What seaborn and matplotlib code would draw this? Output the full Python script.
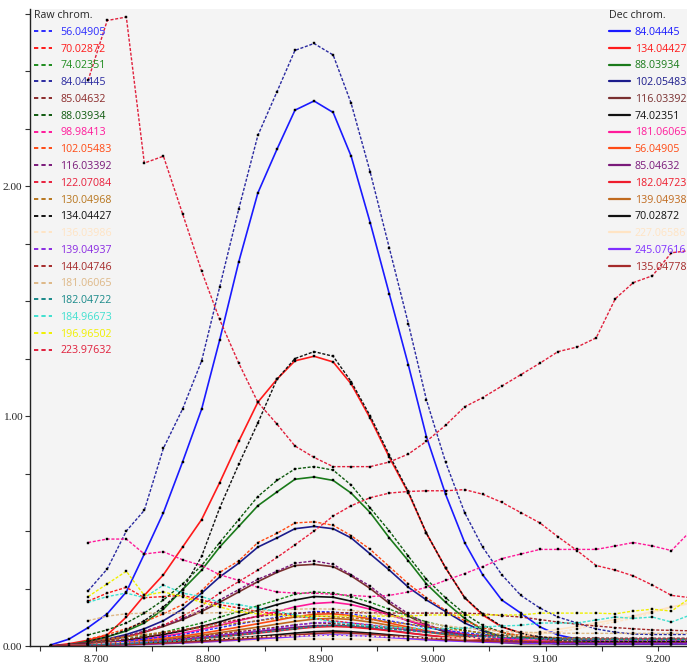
import matplotlib
matplotlib.use("Agg")
import matplotlib.pyplot as plt
from matplotlib.lines import Line2D
from matplotlib.ticker import MultipleLocator, FormatStrFormatter
import pandas as pd
import seaborn as sns

# Retention time of every scan (min)
rt = [8.660, 8.676, 8.693, 8.710, 8.727, 8.743, 8.760, 8.777, 8.794, 8.810,
      8.827, 8.844, 8.861, 8.877, 8.894, 8.911, 8.927, 8.944, 8.961, 8.978,
      8.994, 9.011, 9.028, 9.044, 9.061, 9.078, 9.095, 9.111, 9.128, 9.145,
      9.162, 9.178, 9.195, 9.212, 9.229]

# ---- raw chromatograms (first value = scan 2) ----
raw_labels = ["56.04905", "70.02872", "74.02351", "84.04445", "85.04632",
              "88.03934", "98.98413", "102.05483", "116.03392", "122.07084",
              "130.04968", "134.04427", "136.03986", "139.04937", "144.04746",
              "181.06065", "182.04722", "184.96673", "196.96502", "223.97632"]
raw_colors = ["#2a2aff", "#ff1a1a", "#1e8c1e", "#2a2aa0", "#8b2a2a",
              "#0f5a0f", "#ff1a9a", "#ff4a14", "#7a1a7a", "#e8203c",
              "#b8761e", "#111111", "#ffe4c4", "#8a2be2", "#a52a2a",
              "#deb887", "#1a8a8a", "#40e0d0", "#f0f000", "#e0203c"]

raw_56 = [0.01, 0.015, 0.02, 0.03, 0.04, 0.05, 0.065, 0.08, 0.095, 0.11, 0.125, 0.14, 0.15, 0.148, 0.14, 0.125, 0.11,
          0.095, 0.08, 0.068, 0.058, 0.05, 0.044, 0.04, 0.036, 0.033, 0.031, 0.03, 0.03, 0.03, 0.03, 0.03, 0.03]
raw_70 = [0.195, 0.23, 0.255, 0.21, 0.215, 0.22, 0.20, 0.18, 0.165, 0.15, 0.14, 0.13, 0.12, 0.11, 0.10, 0.09, 0.08,
          0.07, 0.06, 0.055, 0.05, 0.045, 0.04, 0.035, 0.03, 0.03, 0.03, 0.03, 0.03, 0.03, 0.03, 0.03, 0.03]
raw_74 = [0.01, 0.02, 0.03, 0.045, 0.06, 0.08, 0.10, 0.125, 0.15, 0.175, 0.20, 0.225, 0.235, 0.23, 0.215, 0.19, 0.16,
          0.13, 0.105, 0.085, 0.068, 0.055, 0.045, 0.038, 0.033, 0.03, 0.028, 0.026, 0.025, 0.025, 0.025, 0.025, 0.025]
raw_84 = [0.24, 0.335, 0.50, 0.59, 0.86, 1.03, 1.24, 1.56, 1.90, 2.22, 2.41, 2.59, 2.62, 2.57, 2.36, 2.06, 1.73,
          1.40, 1.07, 0.80, 0.58, 0.43, 0.31, 0.22, 0.165, 0.126, 0.10, 0.074, 0.06, 0.052, 0.05, 0.05, 0.05]
raw_85 = [0.01, 0.012, 0.015, 0.02, 0.026, 0.033, 0.042, 0.052, 0.062, 0.072, 0.082, 0.092, 0.10, 0.098, 0.092, 0.085,
          0.078, 0.07, 0.062, 0.055, 0.05, 0.045, 0.042, 0.04, 0.038, 0.036, 0.035, 0.035, 0.034, 0.034, 0.034, 0.034, 0.034]
raw_88 = [0.048, 0.07, 0.10, 0.143, 0.20, 0.27, 0.35, 0.45, 0.55, 0.65, 0.72, 0.77, 0.78, 0.765, 0.70, 0.60, 0.50,
          0.39, 0.29, 0.21, 0.14, 0.09, 0.06, 0.04, 0.03, 0.025, 0.02, 0.02, 0.02, 0.02, 0.02, 0.02, 0.02]
raw_98 = [0.45, 0.465, 0.465, 0.40, 0.41, 0.375, 0.35, 0.31, 0.285, 0.255, 0.235, 0.23, 0.23, 0.225, 0.22, 0.215, 0.22,
          0.235, 0.255, 0.285, 0.315, 0.345, 0.38, 0.40, 0.42, 0.42, 0.42, 0.42, 0.435, 0.45, 0.435, 0.415, 0.50]
raw_102 = [0.03, 0.05, 0.075, 0.105, 0.14, 0.18, 0.24, 0.32, 0.37, 0.45, 0.49, 0.535, 0.54, 0.525, 0.48, 0.42, 0.345,
           0.27, 0.21, 0.155, 0.11, 0.08, 0.06, 0.045, 0.035, 0.03, 0.03, 0.025, 0.025, 0.025, 0.025, 0.025, 0.025]
raw_116 = [0.02, 0.03, 0.045, 0.065, 0.09, 0.12, 0.157, 0.20, 0.245, 0.29, 0.325, 0.36, 0.37, 0.355, 0.31, 0.26, 0.195,
           0.14, 0.095, 0.065, 0.045, 0.03, 0.025, 0.02, 0.015, 0.015, 0.015, 0.015, 0.015, 0.015, 0.015, 0.015, 0.015]
raw_122 = [0.02, 0.03, 0.04, 0.06, 0.09, 0.13, 0.175, 0.23, 0.28, 0.33, 0.385, 0.44, 0.50, 0.565, 0.61, 0.645, 0.665,
           0.672, 0.675, 0.675, 0.68, 0.66, 0.625, 0.58, 0.535, 0.475, 0.415, 0.35, 0.33, 0.305, 0.265, 0.22, 0.21]
raw_130 = [0.02, 0.03, 0.04, 0.05, 0.06, 0.07, 0.08, 0.09, 0.10, 0.11, 0.12, 0.125, 0.13, 0.128, 0.122, 0.115, 0.105,
           0.095, 0.085, 0.075, 0.066, 0.058, 0.05, 0.045, 0.04, 0.036, 0.033, 0.03, 0.03, 0.028, 0.028, 0.028, 0.028]
raw_134 = [0.02, 0.04, 0.07, 0.11, 0.17, 0.245, 0.39, 0.60, 0.79, 0.97, 1.16, 1.25, 1.28, 1.26, 1.15, 1.00, 0.83,
           0.67, 0.49, 0.34, 0.21, 0.14, 0.085, 0.055, 0.04, 0.03, 0.025, 0.02, 0.02, 0.02, 0.02, 0.02, 0.02]
raw_136 = [0.01, 0.012, 0.015, 0.018, 0.02, 0.024, 0.028, 0.032, 0.036, 0.04, 0.042, 0.044, 0.045, 0.045, 0.044, 0.042,
           0.04, 0.038, 0.036, 0.035, 0.035, 0.036, 0.04, 0.045, 0.052, 0.06, 0.075, 0.09, 0.105, 0.12, 0.145, 0.17, 0.19]
raw_139 = [0.005, 0.008, 0.012, 0.017, 0.023, 0.03, 0.038, 0.047, 0.057, 0.067, 0.078, 0.09, 0.1, 0.105, 0.1, 0.092,
           0.082, 0.072, 0.062, 0.053, 0.046, 0.04, 0.035, 0.032, 0.03, 0.028, 0.027, 0.026, 0.026, 0.025, 0.025, 0.025, 0.025]
raw_144 = [0.01, 0.02, 0.03, 0.04, 0.055, 0.07, 0.085, 0.10, 0.115, 0.128, 0.138, 0.143, 0.145, 0.145, 0.145, 0.144,
           0.143, 0.143, 0.143, 0.143, 0.143, 0.14, 0.132, 0.126, 0.115, 0.104, 0.095, 0.087, 0.08, 0.075, 0.07, 0.068, 0.066]
raw_181 = [0.11, 0.13, 0.14, 0.143, 0.143, 0.143, 0.143, 0.145, 0.148, 0.152, 0.156, 0.16, 0.162, 0.16, 0.155, 0.145,
           0.13, 0.115, 0.10, 0.088, 0.078, 0.07, 0.064, 0.06, 0.058, 0.056, 0.055, 0.055, 0.055, 0.055, 0.055, 0.055, 0.055]
raw_182 = [0.005, 0.007, 0.01, 0.014, 0.019, 0.025, 0.032, 0.04, 0.048, 0.057, 0.066, 0.075, 0.085, 0.09, 0.088, 0.082,
           0.075, 0.067, 0.06, 0.053, 0.047, 0.042, 0.038, 0.035, 0.033, 0.031, 0.03, 0.03, 0.029, 0.029, 0.029, 0.029, 0.029]
raw_184 = [0.19, 0.215, 0.23, 0.21, 0.265, 0.23, 0.215, 0.19, 0.18, 0.165, 0.15, 0.135, 0.12, 0.105, 0.095, 0.088,
           0.082, 0.078, 0.075, 0.075, 0.078, 0.083, 0.087, 0.09, 0.1, 0.1, 0.1, 0.113, 0.126, 0.12, 0.126, 0.104, 0.135]
raw_196 = [0.215, 0.27, 0.325, 0.22, 0.235, 0.215, 0.19, 0.17, 0.148, 0.14, 0.135, 0.13, 0.13, 0.13, 0.13, 0.13,
           0.13, 0.13, 0.135, 0.135, 0.135, 0.135, 0.135, 0.135, 0.143, 0.143, 0.143, 0.143, 0.14, 0.152, 0.16, 0.152, 0.21]
raw_223 = [2.46, 2.72, 2.735, 2.10, 2.13, 1.88, 1.63, 1.42, 1.23, 1.06, 0.965, 0.87, 0.82, 0.78, 0.78, 0.78, 0.80,
           0.835, 0.89, 0.96, 1.04, 1.08, 1.13, 1.18, 1.23, 1.28, 1.30, 1.34, 1.51, 1.58, 1.61, 1.71, 1.72]
raw_values = [raw_56, raw_70, raw_74, raw_84, raw_85, raw_88, raw_98, raw_102, raw_116, raw_122,
              raw_130, raw_134, raw_136, raw_139, raw_144, raw_181, raw_182, raw_184, raw_196, raw_223]

# ---- deconvoluted chromatograms (first value = scan 0) ----
dec_labels = ["84.04445", "134.04427", "88.03934", "102.05483", "116.03392",
              "74.02351", "181.06065", "56.04905", "85.04632", "182.04723",
              "139.04938", "70.02872", "227.06586", "245.07616", "135.04778"]
dec_colors = ["#1a1aff", "#ff1a1a", "#1a7a1a", "#1c1c8c", "#7a3030",
              "#111111", "#ff1a9a", "#ff4a14", "#7a1a7a", "#ee1c2c",
              "#c06a1e", "#111111", "#ffe4c4", "#7f2fff", "#a52a2a"]

dec_84 = [0.005, 0.03, 0.08, 0.14, 0.235, 0.40, 0.58, 0.80, 1.03, 1.33, 1.67, 1.97, 2.16, 2.33, 2.37, 2.32, 2.13, 1.84,
          1.53, 1.22, 0.91, 0.66, 0.45, 0.31, 0.20, 0.143, 0.083, 0.048, 0.03, 0.02, 0.015, 0.01, 0.01, 0.01, 0.01]
dec_134 = [0.0, 0.01, 0.025, 0.048, 0.126, 0.22, 0.31, 0.43, 0.55, 0.71, 0.89, 1.06, 1.16, 1.24, 1.26, 1.235, 1.14, 0.99,
           0.82, 0.665, 0.49, 0.34, 0.21, 0.135, 0.083, 0.057, 0.035, 0.02, 0.015, 0.01, 0.01, 0.01, 0.01, 0.01, 0.01]
dec_88 = [0.0, 0.005, 0.02, 0.04, 0.065, 0.10, 0.16, 0.245, 0.33, 0.43, 0.52, 0.61, 0.67, 0.725, 0.735, 0.72, 0.665, 0.58,
          0.47, 0.37, 0.27, 0.19, 0.12, 0.07, 0.04, 0.025, 0.015, 0.01, 0.01, 0.01, 0.01, 0.01, 0.01, 0.01, 0.01]
dec_102 = [0.0, 0.005, 0.015, 0.03, 0.05, 0.075, 0.11, 0.16, 0.23, 0.30, 0.36, 0.43, 0.47, 0.51, 0.52, 0.51, 0.47, 0.40,
           0.33, 0.255, 0.20, 0.15, 0.10, 0.065, 0.04, 0.025, 0.015, 0.01, 0.01, 0.01, 0.01, 0.01, 0.01, 0.01, 0.01]
dec_116 = [0.0, 0.005, 0.015, 0.025, 0.04, 0.06, 0.085, 0.115, 0.15, 0.19, 0.235, 0.28, 0.32, 0.35, 0.355, 0.345, 0.305,
           0.25, 0.185, 0.13, 0.09, 0.06, 0.04, 0.025, 0.015, 0.01, 0.01, 0.01, 0.01, 0.01, 0.01, 0.01, 0.01, 0.01, 0.01]
dec_74 = [0.0, 0.003, 0.008, 0.015, 0.025, 0.037, 0.05, 0.066, 0.085, 0.105, 0.13, 0.155, 0.18, 0.2, 0.215, 0.212, 0.195,
          0.17, 0.14, 0.11, 0.085, 0.065, 0.05, 0.038, 0.03, 0.024, 0.02, 0.018, 0.016, 0.015, 0.015, 0.015, 0.015, 0.015, 0.015]
dec_181 = [0.0, 0.003, 0.007, 0.013, 0.02, 0.03, 0.042, 0.056, 0.072, 0.09, 0.11, 0.13, 0.15, 0.17, 0.185, 0.19, 0.18,
           0.16, 0.135, 0.11, 0.088, 0.068, 0.052, 0.04, 0.032, 0.026, 0.022, 0.02, 0.018, 0.017, 0.016, 0.016, 0.016, 0.016, 0.016]
dec_56 = [0.0, 0.002, 0.005, 0.01, 0.016, 0.024, 0.033, 0.043, 0.055, 0.068, 0.082, 0.097, 0.112, 0.127, 0.138, 0.14, 0.132,
          0.118, 0.1, 0.082, 0.066, 0.052, 0.041, 0.032, 0.026, 0.021, 0.018, 0.016, 0.015, 0.014, 0.014, 0.014, 0.014, 0.014, 0.014]
dec_85 = [0.0, 0.002, 0.004, 0.007, 0.011, 0.016, 0.022, 0.029, 0.037, 0.045, 0.054, 0.063, 0.072, 0.081, 0.088, 0.09, 0.086,
          0.078, 0.068, 0.057, 0.047, 0.038, 0.031, 0.025, 0.021, 0.018, 0.016, 0.015, 0.014, 0.013, 0.013, 0.013, 0.013, 0.013, 0.013]
dec_182 = [0.0, 0.002, 0.004, 0.006, 0.01, 0.014, 0.019, 0.025, 0.032, 0.04, 0.048, 0.056, 0.065, 0.074, 0.082, 0.085, 0.082,
           0.075, 0.066, 0.056, 0.047, 0.039, 0.032, 0.026, 0.022, 0.019, 0.017, 0.016, 0.015, 0.015, 0.015, 0.015, 0.015, 0.015, 0.015]
dec_139 = [0.0, 0.002, 0.005, 0.009, 0.014, 0.02, 0.028, 0.037, 0.047, 0.058, 0.07, 0.082, 0.095, 0.107, 0.117, 0.12, 0.115,
           0.104, 0.09, 0.075, 0.061, 0.049, 0.039, 0.031, 0.025, 0.021, 0.018, 0.016, 0.015, 0.014, 0.014, 0.014, 0.014, 0.014, 0.014]
dec_70 = [0.0, 0.001, 0.003, 0.005, 0.008, 0.011, 0.015, 0.019, 0.024, 0.03, 0.036, 0.042, 0.049, 0.056, 0.062, 0.065, 0.062,
          0.056, 0.049, 0.042, 0.035, 0.029, 0.024, 0.02, 0.017, 0.015, 0.013, 0.012, 0.011, 0.011, 0.011, 0.011, 0.011, 0.011, 0.011]
dec_227 = [0.0, 0.001, 0.002, 0.004, 0.006, 0.008, 0.01, 0.013, 0.016, 0.019, 0.022, 0.025, 0.027, 0.029, 0.03, 0.03, 0.029,
           0.028, 0.027, 0.026, 0.026, 0.027, 0.03, 0.035, 0.042, 0.05, 0.06, 0.072, 0.085, 0.1, 0.115, 0.13, 0.15, 0.17, 0.185]
dec_245 = [0.0, 0.001, 0.002, 0.003, 0.005, 0.007, 0.01, 0.013, 0.017, 0.021, 0.026, 0.031, 0.036, 0.041, 0.046, 0.048, 0.046,
           0.042, 0.037, 0.032, 0.027, 0.023, 0.02, 0.017, 0.015, 0.013, 0.012, 0.011, 0.011, 0.01, 0.01, 0.01, 0.01, 0.01, 0.01]
dec_135 = [0.0, 0.001, 0.002, 0.004, 0.006, 0.009, 0.012, 0.016, 0.02, 0.025, 0.03, 0.036, 0.042, 0.048, 0.054, 0.058, 0.056,
           0.051, 0.045, 0.039, 0.033, 0.028, 0.024, 0.021, 0.019, 0.018, 0.017, 0.017, 0.016, 0.016, 0.016, 0.016, 0.016, 0.016, 0.016]
dec_values = [dec_84, dec_134, dec_88, dec_102, dec_116, dec_74, dec_181, dec_56, dec_85, dec_182,
              dec_139, dec_70, dec_227, dec_245, dec_135]

for v in raw_values:
    assert len(v) == len(rt) - 2, len(v)
for v in dec_values:
    assert len(v) == len(rt), len(v)

# long-form tables
raw_df = pd.concat([pd.DataFrame({"rt": rt[2:], "intensity": v, "ion": lab})
                    for lab, v in zip(raw_labels, raw_values)], ignore_index=True)
dec_df = pd.concat([pd.DataFrame({"rt": rt, "intensity": v, "ion": lab})
                    for lab, v in zip(dec_labels, dec_values)], ignore_index=True)

W, H = 687, 664
sns.set_style("ticks", {"axes.facecolor": "#f4f4f4", "axes.edgecolor": "#222222"})
plt.rcParams["font.family"] = ["Open Sans", "DejaVu Sans"]

fig = plt.figure(figsize=(W / 100, H / 100), dpi=100, facecolor="white")
ax = fig.add_axes([30 / W, 18 / H, 1 - 30 / W, 1 - 27 / H])

marker_kw = dict(marker="s", markersize=2.0, markerfacecolor="black",
                 markeredgecolor="black", markeredgewidth=0.3)

# deconvoluted traces: solid lines
for lab, col in zip(dec_labels, dec_colors):
    sub = dec_df[dec_df["ion"] == lab]
    sns.lineplot(data=sub, x="rt", y="intensity", ax=ax, color=col, linewidth=1.2,
                 sort=False, legend=False, **marker_kw)

# raw traces: dashed lines
for lab, col in zip(raw_labels, raw_colors):
    sub = raw_df[raw_df["ion"] == lab]
    sns.lineplot(data=sub, x="rt", y="intensity", ax=ax, color=col, linewidth=1.0,
                 linestyle=(0, (2.2, 1.2)), sort=False, legend=False, **marker_kw)

ax.set_xlim(8.6413, 9.2258)
ax.set_ylim(0, 2.77)
ax.set_xlabel("")
ax.set_ylabel("")
ax.xaxis.set_major_locator(MultipleLocator(0.1))
ax.xaxis.set_minor_locator(MultipleLocator(0.05))
ax.yaxis.set_major_locator(MultipleLocator(1.0))
ax.yaxis.set_minor_locator(MultipleLocator(0.25))
ax.xaxis.set_major_formatter(FormatStrFormatter("%.3f"))
ax.yaxis.set_major_formatter(FormatStrFormatter("%.2f"))
ax.tick_params(which="both", direction="out", length=3.5, width=0.8, color="#333333")
ax.tick_params(axis="x", pad=3)
ax.tick_params(axis="y", pad=2)
for lbl in ax.get_xticklabels() + ax.get_yticklabels():
    lbl.set_fontfamily("Liberation Serif")
    lbl.set_fontsize(8.2)
for side in ("top", "right"):
    ax.spines[side].set_visible(False)
for side in ("left", "bottom"):
    ax.spines[side].set_linewidth(1.0)

# legends
raw_handles = [Line2D([], [], color=c, lw=1.4, ls=(0, (2.2, 1.6))) for c in raw_colors]
leg_raw = ax.legend(raw_handles, raw_labels, title="Raw chrom.", loc="upper left",
                    bbox_to_anchor=(34 / W, 1 - 10 / H), bbox_transform=fig.transFigure,
                    frameon=False, fontsize=7.7, title_fontsize=7.7, handlelength=1.7,
                    handletextpad=0.75, labelspacing=0.54, borderpad=0, borderaxespad=0,
                    alignment="left")
for t, c in zip(leg_raw.get_texts(), raw_colors):
    t.set_color(c)
ax.add_artist(leg_raw)

dec_handles = [Line2D([], [], color=c, lw=1.6) for c in dec_colors]
leg_dec = ax.legend(dec_handles, dec_labels, title="Dec chrom.", loc="upper left",
                    bbox_to_anchor=(609 / W, 1 - 10 / H), bbox_transform=fig.transFigure,
                    frameon=False, fontsize=7.7, title_fontsize=7.7, handlelength=2.0,
                    handletextpad=0.4, labelspacing=0.54, borderpad=0, borderaxespad=0,
                    alignment="left")
for t, c in zip(leg_dec.get_texts(), dec_colors):
    t.set_color(c)

fig.savefig("out.png", dpi=100, facecolor="white")
